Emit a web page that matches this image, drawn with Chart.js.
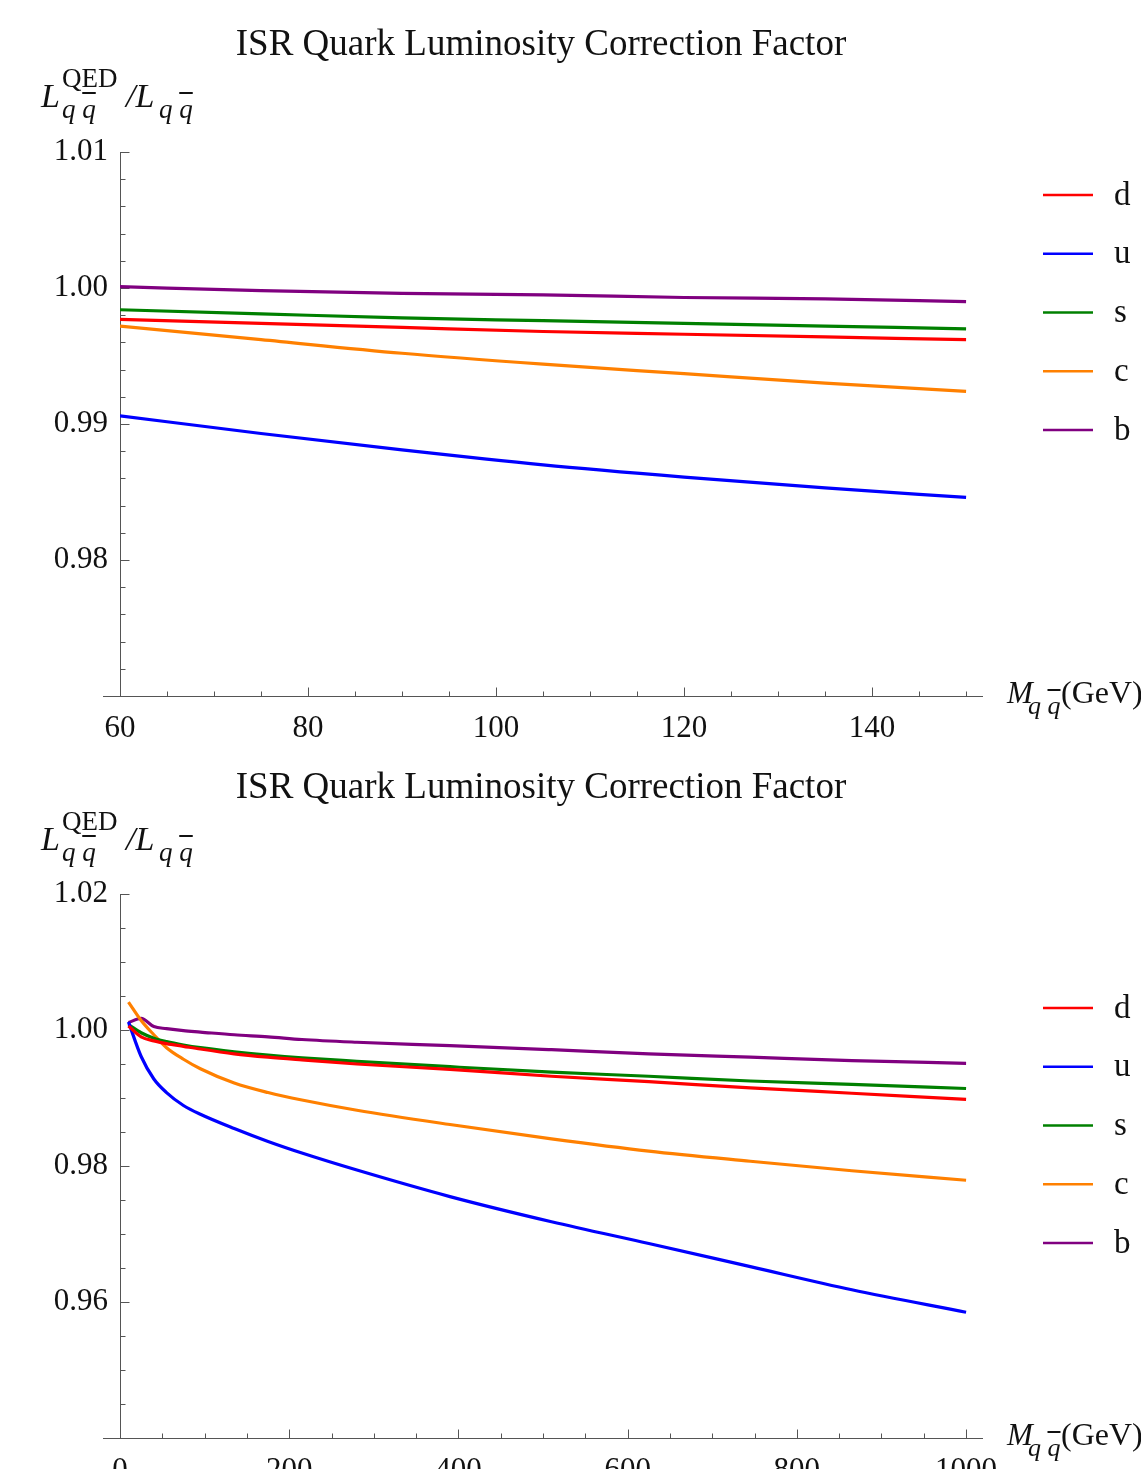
<!DOCTYPE html>
<html><head><meta charset="utf-8">
<script src="https://cdn.jsdelivr.net/npm/chart.js@4.4.0/dist/chart.umd.min.js"></script>
<style>
html,body{margin:0;padding:0;background:#fff;overflow:hidden;width:1141px;height:1469px;}
#wrap{position:relative;width:1141px;height:1469px;overflow:hidden;background:#fff;}
canvas{position:absolute;left:0;}
.t{position:absolute;white-space:nowrap;font-family:"Liberation Serif","Times New Roman",serif;line-height:1;color:#111;}
.i{font-style:italic;}
.ov{text-decoration:overline;text-decoration-thickness:1.5px;}
</style></head>
<body>
<div id="wrap">
<canvas id="c1" width="1141" height="742" style="top:0px"></canvas>
<canvas id="c2" width="1141" height="727" style="top:742px"></canvas>
</div>
<script>
// ---------- data ----------
const chartTitle = 'ISR Quark Luminosity Correction Factor';
const legendLabels = ['d', 'u', 's', 'c', 'b'];
const seriesColors = ['#ff0000', '#0000ff', '#008000', '#ff8000', '#800080'];

const topMass = [60, 75, 90, 105, 120, 135, 150];
const topD = [0.9977, 0.9974, 0.9971, 0.9968, 0.9966, 0.9964, 0.9962];
const topU = [0.9906, 0.9893, 0.9881, 0.9870, 0.9861, 0.9853, 0.9846];
const topS = [0.9984, 0.9981, 0.9978, 0.9976, 0.9974, 0.9972, 0.9970];
const topC = [0.9972, 0.9962, 0.9952, 0.9944, 0.9937, 0.9930, 0.9924];
const topB = [1.0001, 0.9998, 0.9996, 0.9995, 0.9993, 0.9992, 0.9990];

const botMass = [10, 25, 40, 55, 75, 95, 135, 175, 215, 280, 390, 510, 625, 745, 865, 1000];
const botD = [1.0006, 0.9990, 0.9984, 0.9980, 0.9976, 0.9972, 0.9965, 0.9960, 0.9956, 0.9950, 0.9942, 0.9932, 0.9924, 0.9915, 0.9907, 0.9898];
const botU = [1.0012, 0.9961, 0.9928, 0.9908, 0.9889, 0.9876, 0.9855, 0.9836, 0.9819, 0.9794, 0.9755, 0.9718, 0.9686, 0.9652, 0.9618, 0.9585];
const botS = [1.0008, 0.9996, 0.9988, 0.9983, 0.9978, 0.9974, 0.9968, 0.9963, 0.9959, 0.9954, 0.9946, 0.9938, 0.9932, 0.9925, 0.9920, 0.9914];
const botC = [1.0041, 1.0014, 0.9993, 0.9974, 0.9957, 0.9943, 0.9922, 0.9908, 0.9897, 0.9882, 0.9861, 0.9840, 0.9822, 0.9807, 0.9793, 0.9779];
const botB = [1.0011, 1.0017, 1.0005, 1.0002, 0.9999, 0.9997, 0.9993, 0.9990, 0.9986, 0.9982, 0.9977, 0.9971, 0.9965, 0.9960, 0.9955, 0.9951];

const topXTicks = [60, 80, 100, 120, 140];
const topYTicks = [0.98, 0.99, 1.00, 1.01];
const botXTicks = [0, 200, 400, 600, 800, 1000];
const botYTicks = [0.96, 0.98, 1.00, 1.02];

// ---------- helpers ----------
const FONT = '"Liberation Serif","Times New Roman",serif';
const AXIS_COLOR = '#555';

const axesPlugin = {
  id: 'mmaAxes',
  beforeDatasetsDraw(chart) {
    const o = chart.options.plugins.mmaAxes;
    const {ctx, chartArea: a, scales: {x, y}} = chart;
    ctx.save();
    ctx.strokeStyle = AXIS_COLOR;
    ctx.lineWidth = 1;
    const xb = Math.round(a.bottom) + 0.5;
    const yl = Math.round(a.left) + 0.5;
    ctx.beginPath();
    ctx.moveTo(a.left - 17, xb); ctx.lineTo(a.right, xb);
    ctx.moveTo(yl, a.top); ctx.lineTo(yl, a.bottom);
    const kx0 = Math.ceil(x.min / o.xMinor - 1e-9), kx1 = Math.floor(x.max / o.xMinor + 1e-9);
    for (let k = kx0; k <= kx1; k++) {
      const v = k * o.xMinor;
      const major = o.xMajor.some(m => Math.abs(m - v) < 1e-6);
      const px = Math.round(x.getPixelForValue(v)) + 0.5;
      if (px <= a.left + 1) continue;
      ctx.moveTo(px, xb); ctx.lineTo(px, xb - (major ? 9 : 5));
    }
    const ky0 = Math.ceil(y.min / o.yMinor - 1e-6), ky1 = Math.floor(y.max / o.yMinor + 1e-6);
    for (let k = ky0; k <= ky1; k++) {
      const v = k * o.yMinor;
      const major = o.yMajor.some(m => Math.abs(m - v) < 1e-7);
      const py = Math.round(y.getPixelForValue(v)) + 0.5;
      if (py >= a.bottom - 1) continue;
      ctx.moveTo(yl, py); ctx.lineTo(yl + (major ? 9 : 5), py);
    }
    ctx.stroke();
    ctx.restore();
  }
};

const legendPlugin = {
  id: 'mmaLegend',
  afterDraw(chart) {
    const o = chart.options.plugins.mmaLegend;
    const ctx = chart.ctx;
    ctx.save();
    chart.data.datasets.forEach((ds, i) => {
      const yy = o.top + i * o.gap;
      ctx.strokeStyle = ds.borderColor;
      ctx.lineWidth = 2.5;
      ctx.beginPath();
      ctx.moveTo(1043, yy); ctx.lineTo(1093, yy);
      ctx.stroke();
      ctx.fillStyle = '#111';
      ctx.font = '33px ' + FONT;
      ctx.textBaseline = 'middle';
      ctx.textAlign = 'left';
      ctx.fillText(ds.label, 1114, yy + 1);
    });
    ctx.restore();
  }
};

function makeChart(id, cfg) {
  const datasets = cfg.series.map((s, i) => ({
    label: legendLabels[i],
    data: cfg.x.map((xv, j) => ({x: xv, y: s[j]})),
    borderColor: seriesColors[i],
    borderWidth: 3.2,
    pointRadius: 0,
    fill: false,
    tension: 0.4,
    cubicInterpolationMode: 'monotone'
  }));
  return new Chart(document.getElementById(id), {
    type: 'line',
    data: {datasets},
    options: {
      responsive: false,
      animation: false,
      devicePixelRatio: 1,
      layout: {padding: {left: 0, top: 152, right: 158, bottom: 0}},
      plugins: {
        legend: {display: false},
        tooltip: {enabled: false},
        title: {display: false},
        mmaAxes: {xMinor: cfg.xMinor, yMinor: cfg.yMinor, xMajor: cfg.xTicks, yMajor: cfg.yTicks},
        mmaLegend: {top: cfg.legendTop, gap: 58.75}
      },
      scales: {
        x: {
          type: 'linear', min: cfg.xmin, max: cfg.xmax,
          grid: {display: false, drawTicks: false}, border: {display: false},
          afterBuildTicks: s => { s.ticks = cfg.xTicks.map(v => ({value: v})); },
          afterFit: s => { s.height = cfg.xh; },
          ticks: {font: {family: FONT, size: 31}, color: '#111', padding: 14, maxRotation: 0, autoSkip: false,
                  callback: v => String(v)}
        },
        y: {
          type: 'linear', min: cfg.ymin, max: cfg.ymax,
          grid: {display: false, drawTicks: false}, border: {display: false},
          afterBuildTicks: s => { s.ticks = cfg.yTicks.map(v => ({value: v})); },
          afterFit: s => { s.width = 120; },
          ticks: {font: {family: FONT, size: 31}, color: '#111', padding: 12, autoSkip: false,
                  callback: v => Number(v).toFixed(2)}
        }
      }
    },
    plugins: [axesPlugin, legendPlugin]
  });
}

makeChart('c1', {
  x: topMass, series: [topD, topU, topS, topC, topB],
  xmin: 60, xmax: 151.8, ymin: 0.97, ymax: 1.01,
  xTicks: topXTicks, yTicks: topYTicks, xMinor: 5, yMinor: 0.002,
  xh: 46, legendTop: 195
});
makeChart('c2', {
  x: botMass, series: [botD, botU, botS, botC, botB],
  xmin: 0, xmax: 1020, ymin: 0.94, ymax: 1.02,
  xTicks: botXTicks, yTicks: botYTicks, xMinor: 50, yMinor: 0.005,
  xh: 31, legendTop: 266
});

// ---------- HTML text (titles, axis labels) ----------
const wrap = document.getElementById('wrap');
function txt(html, x, base, size, opt = {}) {
  const el = document.createElement('div');
  el.className = 't' + (opt.italic ? ' i' : '');
  el.style.fontSize = size + 'px';
  el.style.left = x + 'px';
  el.style.top = (base - 0.8375 * size) + 'px';
  if (opt.center) el.style.transform = 'translateX(-50%)';
  el.innerHTML = html;
  wrap.appendChild(el);
}
const QQ = 'q <span class="ov">q</span>';
[0, 743].forEach(dy => {
  txt(chartTitle, 541, 55 + dy, 37, {center: true});
  txt('L', 41, 107 + dy, 34, {italic: true});
  txt('QED', 62, 88 + dy, 27);
  txt(QQ, 62, 119 + dy, 27, {italic: true});
  txt('/L', 126, 107 + dy, 34, {italic: true});
  txt(QQ, 159, 119 + dy, 27, {italic: true});
});
[0, 742].forEach(dy => {
  txt('M', 1007, 703 + dy, 31, {italic: true});
  txt(QQ, 1028, 715 + dy, 26, {italic: true});
  txt('(GeV)', 1061, 703 + dy, 32);
});
</script>
</body></html>
